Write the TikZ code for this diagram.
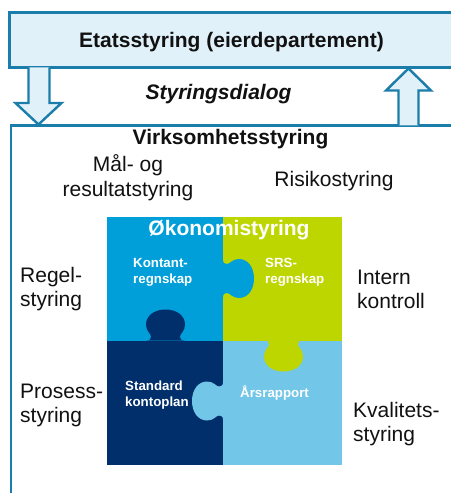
\documentclass[tikz,border=0pt]{standalone}
\usepackage{fontspec}
\setmainfont{Liberation Sans}
\definecolor{frame}{HTML}{1B7DAA}
\definecolor{paleblue}{HTML}{E1F1FA}
\definecolor{pzblue}{HTML}{009FDA}
\definecolor{pzgreen}{HTML}{BED600}
\definecolor{pznavy}{HTML}{002F6C}
\definecolor{pzlight}{HTML}{72C6E8}
\definecolor{ink}{HTML}{111111}
% outline of a jigsaw tab: edge on the local x axis, knob towards local +y
\newcommand\tabpath{(-19,0) .. controls (-15.5,0) and (-14.5,1.5) .. (-14.5,4)
  .. controls (-14.5,7) and (-19.5,9) .. (-19.5,16)
  .. controls (-19.5,25) and (-11,31) .. (0,31)
  .. controls (11,31) and (19.5,25) .. (19.5,16)
  .. controls (19.5,9) and (14.5,7) .. (14.5,4)
  .. controls (14.5,1.5) and (15.5,0) .. (19,0) -- cycle}
\begin{document}
\begin{tikzpicture}[x=1bp,y=-1bp,
  box/.style={draw=frame,line width=2.6bp},
  arrowshape/.style={draw=frame,fill=paleblue,line width=2.4bp,line join=miter},
  big/.style={font=\fontsize{21bp}{25bp}\selectfont,text=ink,inner sep=0},
  bigbold/.style={big,font=\fontsize{21bp}{25bp}\selectfont\bfseries},
  piece/.style={font=\fontsize{13.3bp}{16bp}\selectfont\bfseries,text=white,inner sep=0}]
\useasboundingbox (0,0) rectangle (451,493);
\clip (0,0) rectangle (451,493);
\fill[white] (0,0) rectangle (451,493);

% lower frame (the agency) and upper frame (the ministry)
\draw[box,fill=white] (11,125.5) rectangle (470,520);
\draw[box,fill=paleblue] (9.5,12.5) rectangle (470,67.5);

% dialogue arrows
\draw[arrowshape] (28.5,67.5) -- (28.5,103) -- (15.5,103) -- (38.5,124.5)
  -- (61.5,103) -- (49.5,103) -- (49.5,67.5);
\draw[arrowshape] (398.5,125.5) -- (398.5,90.5) -- (386,90.5) -- (408.5,68.5)
  -- (431,90.5) -- (418.5,90.5) -- (418.5,125.5);

\node[bigbold,anchor=base] (etat) at (231.5,48) {Etatsstyring (eierdepartement)};
\node[bigbold,anchor=base,font=\fontsize{21bp}{25bp}\selectfont\bfseries\itshape] (dialog) at (218.5,100) {Styringsdialog};
\node[bigbold,anchor=base] (virk) at (230.5,145) {Virksomhetsstyring};

% surrounding management areas
\node[big,anchor=base] (maal1) at (128,172) {Mål- og};
\node[big,anchor=base] (maal2) at (128,197) {resultatstyring};
\node[big,anchor=base] (risiko) at (334,187) {Risikostyring};
\node[big,anchor=base west] (regel1) at (20,282) {Regel-};
\node[big,anchor=base west] (regel2) at (20,306) {styring};
\node[big,anchor=base west] (prosess1) at (20,398) {Prosess-};
\node[big,anchor=base west] (prosess2) at (20,422) {styring};
\node[big,anchor=base west] (intern1) at (357,284) {Intern};
\node[big,anchor=base west] (intern2) at (357,308) {kontroll};
\node[big,anchor=base west] (kval1) at (353,417) {Kvalitets-};
\node[big,anchor=base west] (kval2) at (353,441) {styring};

% jigsaw of financial management
\fill[pzblue] (107,217) rectangle (223,340.5);
\fill[pzgreen] (223,217) rectangle (342,340.5);
\fill[pznavy] (107,340.5) rectangle (223,465);
\fill[pzlight] (223,340.5) rectangle (342,465);
\begin{scope}[shift={(223,278.5)},x={(0bp,1bp)},y={(1bp,0bp)}]
  \fill[pzblue] \tabpath;
\end{scope}
\begin{scope}[shift={(165.5,340.5)},x={(1bp,0bp)},y={(0bp,1bp)}]
  \fill[pznavy] \tabpath;
\end{scope}
\begin{scope}[shift={(283.5,340.5)},x={(1bp,0bp)},y={(0bp,-1bp)}]
  \fill[pzgreen] \tabpath;
\end{scope}
\begin{scope}[shift={(223,401)},x={(0bp,1bp)},y={(-1bp,0bp)}]
  \fill[pzlight] \tabpath;
\end{scope}

\node[bigbold,anchor=base,text=white] (oko) at (229,235) {Økonomistyring};
\node[piece,anchor=base west] (kont1) at (133,267) {Kontant-};
\node[piece,anchor=base west] (kont2) at (133,283) {regnskap};
\node[piece,anchor=base west] (srs1) at (265,267) {SRS-};
\node[piece,anchor=base west] (srs2) at (265,283) {regnskap};
\node[piece,anchor=base west] (std1) at (125,390) {Standard};
\node[piece,anchor=base west] (std2) at (125,406) {kontoplan};
\node[piece,anchor=base west] (aars) at (240,397) {Årsrapport};
\end{tikzpicture}
\end{document}
